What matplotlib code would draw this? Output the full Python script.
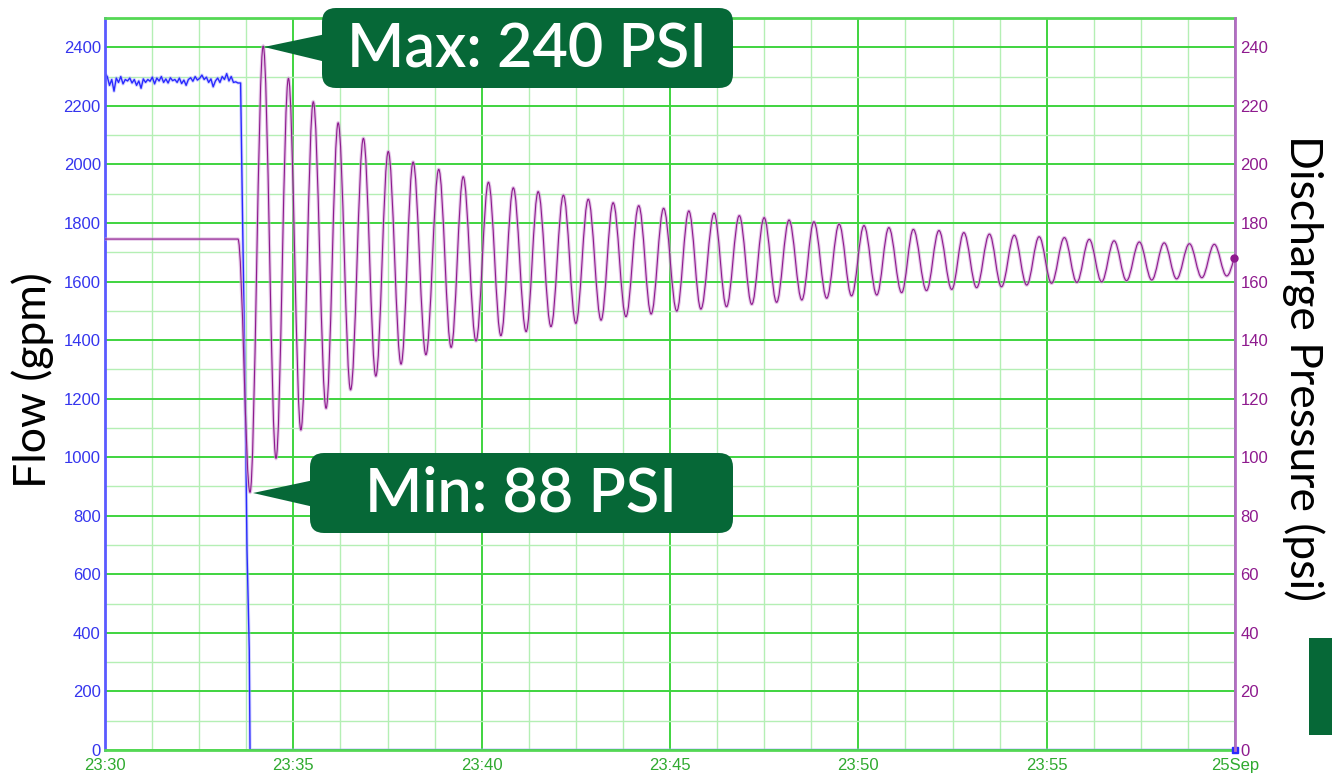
import numpy as np
import matplotlib
matplotlib.use('Agg')
import matplotlib.pyplot as plt
from matplotlib.path import Path
from matplotlib.patches import PathPatch, FancyBboxPatch, Polygon, Rectangle
from matplotlib.transforms import Affine2D

W, H = 1332, 779

# time axis: minutes after 23:30
x_ticks = [0, 5, 10, 15, 20, 25, 30]
x_labels = ['23:30', '23:35', '23:40', '23:45', '23:50', '23:55', '25Sep']

# flow (gpm), steady part before the trip
flow_steady = [2310, 2300, 2270, 2290, 2250, 2295, 2280, 2300, 2275, 2290,
               2285, 2295, 2278, 2290, 2270, 2285, 2260, 2292, 2280, 2290,
               2284, 2298, 2275, 2295, 2285, 2300, 2280, 2292, 2278, 2296,
               2286, 2290, 2280, 2295, 2276, 2288, 2270, 2290, 2296, 2284,
               2300, 2288, 2294, 2305, 2290, 2298, 2280, 2292, 2265, 2285,
               2295, 2280, 2300, 2290, 2310, 2285, 2300, 2280, 2282, 2278]
flow_steady_t = np.linspace(0, 3.53, len(flow_steady))
# flow ramp down to zero
flow_drop_t = [3.60, 3.645, 3.717, 3.77, 3.83, 3.85, 30.0]
flow_drop = [2278, 1878, 1264, 683, 342, 0, 0]

# discharge pressure (psi)
press_flat_t = [0.0, 3.53]
press_flat = [174.5, 174.5]
# alternating troughs / peaks of the surge oscillation
ext_t = [3.85, 4.20, 4.54, 4.87, 5.20, 5.53, 5.87, 6.19, 6.52, 6.86,
         7.19, 7.52, 7.86, 8.18, 8.52, 8.86, 9.19, 9.51, 9.85, 10.18,
         10.51, 10.84, 11.18, 11.50, 11.84, 12.17, 12.50, 12.83, 13.17, 13.49,
         13.83, 14.17, 14.50, 14.83, 15.18, 15.50, 15.82, 16.17, 16.50, 16.84,
         17.17, 17.50, 17.83, 18.16, 18.50, 18.82, 19.16, 19.49, 19.82, 20.15,
         20.49, 20.81, 21.15, 21.46, 21.81, 22.14, 22.48, 22.80, 23.14, 23.48,
         23.80, 24.14, 24.47, 24.80, 25.13, 25.47, 25.80, 26.13, 26.46, 26.79,
         27.12, 27.46, 27.79, 28.12, 28.45, 28.79, 29.12, 29.45, 29.78]
ext_p = [88.0, 240.4, 99.6, 229.4, 109.3, 221.4, 116.7, 214.2, 123.0, 208.9,
         127.7, 204.4, 131.8, 200.8, 135.0, 198.3, 137.5, 195.8, 139.7, 193.9,
         141.5, 192.0, 142.9, 190.7, 144.6, 189.5, 145.7, 188.1, 146.8, 186.9,
         148.0, 185.9, 148.9, 185.0, 149.9, 184.1, 150.6, 183.3, 151.4, 182.5,
         152.2, 181.8, 152.9, 181.0, 153.7, 180.4, 154.3, 179.6, 155.1, 179.1,
         155.4, 178.4, 156.2, 177.8, 156.9, 177.4, 157.3, 176.7, 157.9, 176.2,
         158.2, 175.8, 158.8, 175.3, 159.4, 175.0, 159.7, 174.4, 159.9, 173.9,
         160.3, 173.5, 160.5, 173.2, 160.9, 172.9, 161.3, 172.7, 161.9]
press_end_t = 29.97
press_end = 167.9

dark_green = '#066837'
purple = '#8e1a8e'
blue = '#2a2aff'

fig = plt.figure(figsize=(W / 100, H / 100), dpi=100)
ax = fig.add_axes([105 / W, 1 - 750 / H, 1130 / W, 732 / H])
ax2 = ax.twinx()

ax.set_xlim(0, 30)
ax.set_ylim(0, 2500)
ax2.set_ylim(0, 250)

# grid
ax.set_xticks(x_ticks)
ax.set_xticklabels(x_labels)
ax.set_xticks(np.arange(0, 30.01, 1.25), minor=True)
ax.set_yticks(np.arange(0, 2401, 200))
ax.set_yticks(np.arange(0, 2501, 100), minor=True)
ax.grid(which='minor', color='#b4efb4', lw=1.0)
ax.grid(which='major', color='#3fd43f', lw=1.4)
ax.set_axisbelow(True)
ax2.set_yticks(np.arange(0, 241, 20))

ax.tick_params(which='both', length=0)
ax2.tick_params(which='both', length=0)
ax.tick_params(axis='y', colors='#3535ee', labelsize=12, pad=3)
ax.tick_params(axis='x', colors='#2faa2f', labelsize=12, pad=6)
ax2.tick_params(axis='y', colors=purple, labelsize=12, pad=4)
for lab in ax.get_xticklabels() + ax.get_yticklabels() + ax2.get_yticklabels():
    lab.set_family('Liberation Sans')

for s in ['top', 'bottom']:
    ax.spines[s].set_color('#55d855')
    ax.spines[s].set_linewidth(2)
    ax2.spines[s].set_visible(False)
ax.spines['left'].set_color('#5a5aff')
ax.spines['left'].set_linewidth(2)
ax.spines['right'].set_visible(False)
ax2.spines['left'].set_visible(False)
ax2.spines['right'].set_color('#b46cc4')
ax2.spines['right'].set_linewidth(2)
ax.spines['bottom'].set_zorder(5)

# flow line
flow_t = list(flow_steady_t) + flow_drop_t
flow = list(flow_steady) + flow_drop
ax.plot(flow_t, flow, color='#a8a8ff', lw=2.4, alpha=0.5, solid_joinstyle='round')
ax.plot(flow_t, flow, color=blue, lw=1.0)
ax.plot([30], [0], marker='s', ms=4, color=blue, clip_on=False, zorder=6)

# pressure line: smooth curve through the read extrema
k = 0.364
verts = [(press_flat_t[0], press_flat[0]), (press_flat_t[1], press_flat[1])]
codes = [Path.MOVETO, Path.LINETO]
pt, pp = press_flat_t[1], press_flat[1]
for t, p in zip(ext_t, ext_p):
    dt = t - pt
    verts += [(pt + k * dt, pp), (t - k * dt, p), (t, p)]
    codes += [Path.CURVE4] * 3
    pt, pp = t, p
dt = press_end_t - pt
verts += [(pt + k * dt, pp), (press_end_t - 0.3 * dt, press_end - 3), (press_end_t, press_end)]
codes += [Path.CURVE4] * 3
path = Path(verts, codes)
ax2.add_patch(PathPatch(path, fill=False, ec='#d2a0d8', lw=2.4, alpha=0.6))
ax2.add_patch(PathPatch(path, fill=False, ec=purple, lw=0.8))
ax2.plot([press_end_t], [press_end], 'o', ms=5, color=purple, clip_on=False, zorder=6)

# axis titles
fig.text(33 / W, 1 - 380 / H, 'Flow (gpm)', rotation=90, ha='center', va='center',
         fontsize=32, family='Lato', color='black')
fig.text(1303 / W, 1 - 368 / H, 'Discharge Pressure (psi)', rotation=270, ha='center',
         va='center', fontsize=32, family='Lato', color='black')

# callouts in figure pixel coordinates
pix = Affine2D().scale(1 / W, -1 / H).translate(0, 1) + fig.transFigure
fig.patches.append(FancyBboxPatch((322, 8), 411, 80, boxstyle='round,pad=0,rounding_size=14',
                                  transform=pix, fc=dark_green, ec='none'))
fig.patches.append(Polygon([(264, 47), (326, 34), (326, 62)], closed=True,
                           transform=pix, fc=dark_green, ec='none'))
fig.text(527 / W, 1 - 49 / H, 'Max: 240 PSI', ha='center', va='center', fontsize=44,
         family='Lato', weight='semibold', color='white')

fig.patches.append(FancyBboxPatch((310, 453), 423, 80, boxstyle='round,pad=0,rounding_size=14',
                                  transform=pix, fc=dark_green, ec='none'))
fig.patches.append(Polygon([(253, 493), (314, 480), (314, 507)], closed=True,
                           transform=pix, fc=dark_green, ec='none'))
fig.text(521 / W, 1 - 494 / H, 'Min: 88 PSI', ha='center', va='center', fontsize=44,
         family='Lato', weight='semibold', color='white')

fig.patches.append(Rectangle((1309, 638), 30, 97, transform=pix, fc=dark_green, ec='none'))

fig.savefig('out.png', dpi=100)
